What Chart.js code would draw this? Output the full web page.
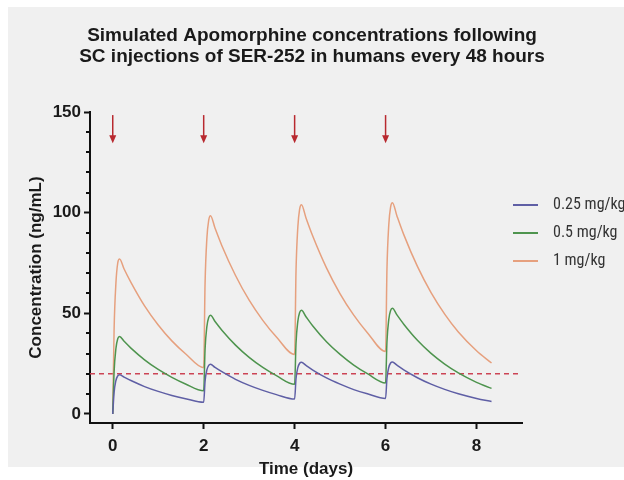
<!DOCTYPE html>
<html>
<head>
<meta charset="utf-8">
<script src="https://cdn.jsdelivr.net/npm/chart.js@4.4.0/dist/chart.umd.min.js"></script>
<style>
  html, body { margin: 0; padding: 0; background: #fff; }
  #panel { position: absolute; left: 8px; top: 7px; width: 616px; height: 460px; background: #f0f0f0; }
  #wrap { position: absolute; left: 0; top: 0; width: 624px; height: 480px; }
</style>
</head>
<body>
<div id="panel"></div>
<div id="wrap"><canvas id="chart" width="624" height="480"></canvas></div>
<script>
// time points (days)
const days = [
  0, 0.03, 0.07, 0.11, 0.15, 0.25, 0.4, 0.7, 1.0, 1.3, 1.6,
  2, 2.03, 2.07, 2.11, 2.15, 2.25, 2.4, 2.7, 3.0, 3.3, 3.6,
  4, 4.03, 4.07, 4.11, 4.15, 4.25, 4.4, 4.7, 5.0, 5.3, 5.6,
  6, 6.03, 6.07, 6.11, 6.15, 6.25, 6.4, 6.7, 7.0, 7.3, 7.6, 8.0, 8.33
];

// concentrations (ng/mL)
const conc025 = [
  0, 10.7, 16.6, 18.9, 19.5, 18.3, 16.6, 13.6, 11.2, 9.2, 7.6,
  5.8, 16.2, 21.9, 24.1, 24.7, 23.1, 21.0, 17.2, 14.2, 11.7, 9.6,
  7.4, 17.5, 23.0, 25.2, 25.7, 24.1, 21.8, 17.9, 14.8, 12.1, 10.0,
  7.7, 17.7, 23.1, 25.3, 25.8, 24.2, 21.9, 18.0, 14.8, 12.2, 10.0, 7.7, 6.2
];
const conc05 = [
  0, 21, 32.5, 37.4, 38.5, 36.1, 32.7, 26.9, 22.1, 18.2, 14.9,
  11.5, 32.1, 43.4, 47.9, 49, 45.9, 41.6, 34.2, 28.1, 23.1, 19.0,
  14.7, 35.0, 46.0, 50.4, 51.5, 48.3, 43.7, 35.9, 29.6, 24.3, 20.0,
  15.4, 35.8, 46.9, 51.4, 52.5, 49.2, 44.6, 36.6, 30.1, 24.8, 20.4, 15.7, 12.7
];
const conc1 = [
  0, 42, 65, 75, 77, 72, 65.4, 53.7, 44.2, 36.3, 29.9,
  23, 64.5, 87.2, 96.2, 98.5, 92.3, 83.6, 68.8, 56.5, 46.5, 38.2,
  29.5, 70.5, 92.8, 101.8, 104, 97.4, 88.3, 72.6, 59.7, 49.1, 40.4,
  31, 71.7, 93.9, 102.8, 105, 98.4, 89.1, 73.3, 60.3, 49.6, 40.7, 31.4, 25.3
];

const seriesLabels = ['0.25 mg/kg', '0.5 mg/kg', '1 mg/kg'];
const threshold = 20;
const doseDays = [0, 2, 4, 6];
const arrowTop = 148.5, arrowTip = 134.5;

const xTicks = [0, 2, 4, 6, 8];
const yTicks = [0, 50, 100, 150];
const yMinorStep = 10;
const xMin = -0.5, xMax = 9, yMin = -4.5, yMax = 150;

const colors = ['#5f5fa5', '#4e944e', '#e6a07e'];
const textColor = '#1a1a1a';
const fontFam = "'Liberation Sans', Arial, sans-serif";

function pts(arr) {
  return days.map((d, i) => ({ x: d, y: arr[i] }));
}

const extras = {
  id: 'extras',
  afterDatasetsDraw(chart) {
    const { ctx, scales: { x, y } } = chart;
    ctx.save();
    ctx.strokeStyle = '#b8292f';
    ctx.fillStyle = '#b8292f';
    ctx.lineWidth = 1.5;
    doseDays.forEach(d => {
      const px = x.getPixelForValue(d);
      const top = y.getPixelForValue(arrowTop);
      const tip = y.getPixelForValue(arrowTip);
      ctx.beginPath();
      ctx.moveTo(px, top);
      ctx.lineTo(px, tip - 6);
      ctx.stroke();
      ctx.beginPath();
      ctx.moveTo(px - 3.5, tip - 8);
      ctx.lineTo(px + 3.5, tip - 8);
      ctx.lineTo(px, tip);
      ctx.closePath();
      ctx.fill();
    });
    ctx.restore();
  },
  afterDraw(chart) {
    const { ctx, scales: { y }, chartArea } = chart;
    ctx.save();
    // minor ticks
    ctx.strokeStyle = '#111';
    ctx.lineWidth = 2;
    for (let v = 0; v <= yMax; v += yMinorStep) {
      if (yTicks.includes(v)) continue;
      const py = Math.round(y.getPixelForValue(v));
      ctx.beginPath();
      ctx.moveTo(chartArea.left - 4, py);
      ctx.lineTo(chartArea.left, py);
      ctx.stroke();
    }
    // legend
    ctx.font = "16px 'Liberation Sans Narrow', 'Arial Narrow', 'Roboto Condensed', sans-serif";
    ctx.textBaseline = 'middle';
    ctx.fillStyle = '#333';
    seriesLabels.forEach((lab, i) => {
      const ly = 205 + i * 28;
      ctx.strokeStyle = colors[i];
      ctx.lineWidth = 2;
      ctx.beginPath();
      ctx.moveTo(513, ly);
      ctx.lineTo(538, ly);
      ctx.stroke();
      ctx.fillText(lab, 553, ly);
    });
    ctx.restore();
  }
};

const datasets = seriesLabels.map((lab, i) => ({
  label: lab,
  data: pts([conc025, conc05, conc1][i]),
  borderColor: colors[i],
  borderWidth: 1.5,
  pointRadius: 0,
  fill: false,
  cubicInterpolationMode: 'monotone'
}));
datasets.push({
  label: 'threshold',
  data: [{ x: xMin, y: threshold }, { x: xMax, y: threshold }],
  borderColor: '#cc4455',
  borderWidth: 1.5,
  borderDash: [5, 4],
  pointRadius: 0,
  fill: false
});

const chartCtx = document.getElementById('chart').getContext('2d');
new Chart(chartCtx, {
  type: 'line',
  data: { datasets: datasets },
  plugins: [extras],
  options: {
    responsive: false,
    animation: false,
    layout: { padding: 0 },
    plugins: {
      legend: { display: false },
      tooltip: { enabled: false },
      title: {
        display: true,
        text: ['Simulated Apomorphine concentrations following', 'SC injections of SER-252 in humans every 48 hours'],
        color: textColor,
        font: { family: fontFam, size: 19, weight: 'bold', lineHeight: 1.07 },
        padding: { top: 26, bottom: 45.4 }
      }
    },
    scales: {
      x: {
        type: 'linear',
        min: xMin,
        max: xMax,
        afterBuildTicks: s => { s.ticks = xTicks.map(v => ({ value: v })); },
        afterFit: s => { s.height = 57; },
        ticks: { color: textColor, font: { family: fontFam, size: 17, weight: 'bold' }, padding: 7 },
        grid: { drawOnChartArea: false, tickLength: 6, tickWidth: 2, tickColor: '#111' },
        border: { color: '#111', width: 2 },
        title: {
          display: true, text: 'Time (days)', color: textColor,
          font: { family: fontFam, size: 17, weight: 'bold', lineHeight: 1.2 },
          padding: { top: 0, bottom: 0 }
        }
      },
      y: {
        type: 'linear',
        min: yMin,
        max: yMax,
        afterBuildTicks: s => { s.ticks = yTicks.map(v => ({ value: v })); },
        afterFit: s => { s.width = 90; },
        ticks: { color: textColor, font: { family: fontFam, size: 17, weight: 'bold' }, padding: 3 },
        grid: { drawOnChartArea: false, tickLength: 6, tickWidth: 2, tickColor: '#111' },
        border: { color: '#111', width: 2 },
        title: {
          display: true, text: 'Concentration (ng/mL)', color: textColor,
          font: { family: fontFam, size: 17, weight: 'bold', lineHeight: 1.2 },
          padding: { top: 26, bottom: 0 }
        }
      },
      y2: {
        type: 'linear',
        position: 'right',
        afterFit: s => { s.width = 102; },
        ticks: { display: false },
        grid: { display: false },
        border: { display: false }
      }
    }
  }
});
</script>
</body>
</html>
